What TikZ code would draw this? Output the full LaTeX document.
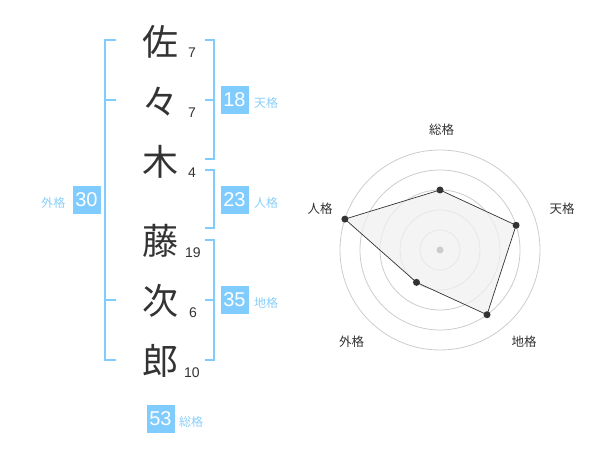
\documentclass[tikz,border=0pt]{standalone}
\usepackage{fontspec}
\setmainfont{Liberation Sans}
\newfontfamily\jp{Noto Sans CJK JP}
\definecolor{skyb}{HTML}{80CCFF}
\definecolor{labb}{HTML}{8ACFFA}
\definecolor{ink}{HTML}{333333}
\definecolor{ringc}{HTML}{CCCCCC}
\definecolor{fillc}{HTML}{F0F0F0}
\begin{document}
\begin{tikzpicture}[x=1pt,y=-1pt,
  kanji/.style={font=\jp\fontsize{36}{36}\selectfont, text=ink, inner sep=0pt},
  strokes/.style={font=\fontsize{14}{14}\selectfont, text=ink, inner sep=0pt},
  numbox/.style={fill=skyb, text=white, font=\fontsize{20}{20}\selectfont, minimum width=28pt, minimum height=28pt, inner sep=0pt},
  kaku/.style={font=\jp\fontsize{12}{12}\selectfont, text=labb, inner sep=0pt},
  brk/.style={draw=skyb, line width=2pt},
  ring/.style={draw=ringc, line width=0.8pt},
  axlab/.style={font=\jp\fontsize{12.5}{12.5}\selectfont, text=ink, inner sep=0pt},
  vdot/.style={circle, fill=ink, inner sep=0pt, minimum size=7pt},
  cdot/.style={circle, fill=ringc, inner sep=0pt, minimum size=7pt}
]
\useasboundingbox (0,0) rectangle (600,470);
% kanji
\node[kanji] (k1) at (160,42) {佐};
\node[kanji] (k2) at (160,102) {々};
\node[kanji] (k3) at (160,162) {木};
\node[kanji] (k4) at (160,241) {藤};
\node[kanji] (k5) at (160,301) {次};
\node[kanji] (k6) at (160,361) {郎};
% strokes
\node[strokes] (s1) at (192,53) {7};
\node[strokes] (s2) at (192,113) {7};
\node[strokes] (s3) at (192,173) {4};
\node[strokes] (s4) at (193,253) {19};
\node[strokes] (s5) at (193,313) {6};
\node[strokes] (s6) at (192,373) {10};
% brackets
\draw[brk] (116,40) -- (105,40) -- (105,360) -- (116,360);
\draw[brk] (105,100) -- (116,100);
\draw[brk] (105,300) -- (116,300);
\draw[brk] (205,40) -- (214,40) -- (214,159) -- (205,159);
\draw[brk] (205,100) -- (214,100);
\draw[brk] (205,170) -- (214,170) -- (214,228) -- (205,228);
\draw[brk] (205,240) -- (214,240) -- (214,360) -- (205,360);
\draw[brk] (205,300) -- (214,300);
% boxes
\node[numbox] (b18) at (234.5,100) {18};
\node[kaku] (l18) at (266,102.5) {天格};
\node[numbox] (b23) at (234.5,200) {23};
\node[kaku] (l23) at (266,202.5) {人格};
\node[numbox] (b35) at (234.5,300) {35};
\node[kaku] (l35) at (266,302.5) {地格};
\node[numbox] (b30) at (86.5,200) {30};
\node[kaku] (l30) at (53.5,202.5) {外格};
\node[numbox] (b53) at (160.5,419) {53};
\node[kaku] (l53) at (191,421.5) {総格};
% radar
\begin{scope}[shift={(440,250)}, y=1pt]
  \foreach \r in {20,40,60,80,100} \draw[ring] (0,0) circle (\r);
  \coordinate (psou) at (90:60);
  \coordinate (pten) at (18:80);
  \coordinate (pchi) at (-54:80);
  \coordinate (pgai) at (-126:40);
  \coordinate (pjin) at (162:100);
  \filldraw[fill=fillc, fill opacity=0.75, draw=ink, line width=0.7pt] (psou) -- (pten) -- (pchi) -- (pgai) -- (pjin) -- cycle;
  \node[cdot] (ctr) at (0,0) {};
  \node[vdot] (dsou) at (psou) {};
  \node[vdot] (dten) at (pten) {};
  \node[vdot] (dchi) at (pchi) {};
  \node[vdot] (dgai) at (pgai) {};
  \node[vdot] (djin) at (pjin) {};
\end{scope}
\node[axlab] (asou) at (441.7,130) {総格};
\node[axlab] (aten) at (562,209) {天格};
\node[axlab] (achi) at (524,341.7) {地格};
\node[axlab] (agai) at (351.7,341.7) {外格};
\node[axlab] (ajin) at (320,209) {人格};
\end{tikzpicture}
\end{document}
